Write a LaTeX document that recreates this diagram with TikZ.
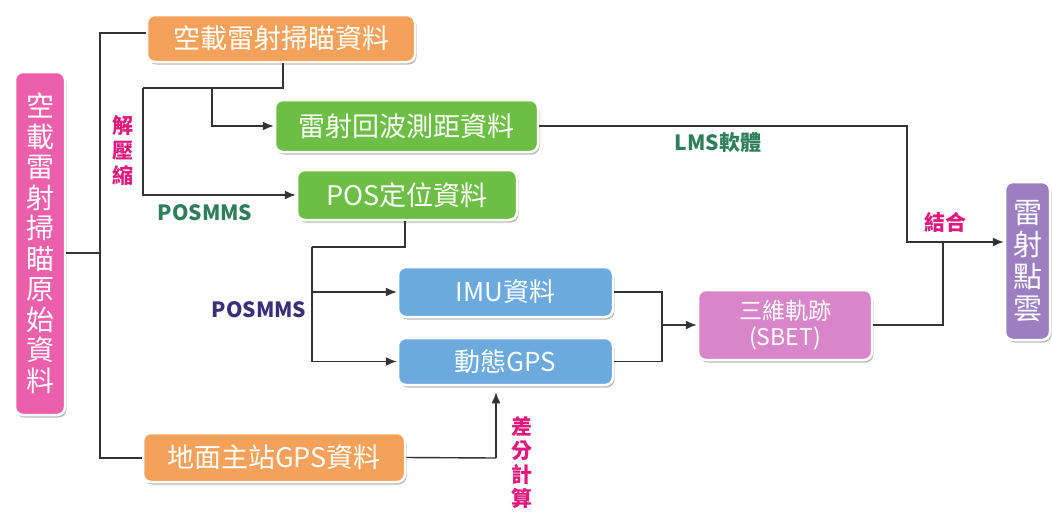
\documentclass[tikz,border=0pt]{standalone}
\usepackage{fontspec}
\setmainfont{Noto Sans CJK TC}
\usetikzlibrary{shadows,arrows.meta}
\definecolor{cleft}{HTML}{EC5FAA}
\definecolor{corange}{HTML}{F4A25B}
\definecolor{cgreen}{HTML}{6DBE45}
\definecolor{cblue}{HTML}{6CA9DD}
\definecolor{csbet}{HTML}{D985C9}
\definecolor{cpurple}{HTML}{9C7FC0}
\definecolor{cmag}{HTML}{E0197D}
\definecolor{cdgreen}{HTML}{2E7D5B}
\definecolor{cnavy}{HTML}{3B2F7A}
\definecolor{cline}{HTML}{333333}
\tikzset{
  box/.style={draw=white, line width=2.5pt, rounded corners=8pt, inner sep=0pt,
    text=white, align=center,
    drop shadow={shadow xshift=1.5pt, shadow yshift=-2.5pt, fill=black, opacity=0.28}},
  conn/.style={draw=cline, line width=1.4pt},
  arr/.style={conn, -{Latex[length=11pt,width=9pt]}},
  lab/.style={font=\bfseries\fontsize{21}{25}\selectfont, inner sep=0pt, align=center},
}
\begin{document}
\begin{tikzpicture}[x=1pt,y=-1pt]
\useasboundingbox[fill=white] (0,0) rectangle (1052,515);

% boxes
\node[box, fill=cleft, minimum width=50pt, minimum height=343pt,
  font=\fontsize{28}{30.5}\selectfont] (left) at (40,243.5)
  {空\\載\\雷\\射\\掃\\瞄\\原\\始\\資\\料};
\node[box, fill=corange, minimum width=268pt, minimum height=47pt,
  font=\fontsize{27}{30}\selectfont] (top) at (281,38.5) {空載雷射掃瞄資料};
\node[box, fill=cgreen, minimum width=263pt, minimum height=52pt,
  font=\fontsize{27}{30}\selectfont] (laser) at (406.5,126) {雷射回波測距資料};
\node[box, fill=cgreen, minimum width=220pt, minimum height=50pt,
  font=\fontsize{27}{30}\selectfont] (pos) at (407,195) {POS定位資料};
\node[box, fill=cblue, minimum width=215pt, minimum height=50pt,
  font=\fontsize{26}{30}\selectfont] (imu) at (505.5,292) {IMU資料};
\node[box, fill=cblue, minimum width=215pt, minimum height=47pt,
  font=\fontsize{26}{30}\selectfont] (gps) at (505.5,361.5) {動態GPS};
\node[box, fill=csbet, minimum width=174pt, minimum height=70pt,
  font=\fontsize{23}{26}\selectfont] (sbet) at (785,325) {三維軌跡\\(SBET)};
\node[box, fill=cpurple, minimum width=45pt, minimum height=158pt,
  font=\fontsize{29}{32}\selectfont] (right) at (1027.5,261) {雷\\射\\點\\雲};
\node[box, fill=corange, minimum width=262pt, minimum height=49pt,
  font=\fontsize{27}{30}\selectfont] (ground) at (274,457.5) {地面主站GPS資料};

% labels
\node[lab, text=cmag, font=\bfseries\fontsize{21}{25}\selectfont] (jieya) at (123,150) {解\\壓\\縮};
\node[lab, text=cdgreen] (posmms1) at (205,213) {POSMMS};
\node[lab, text=cnavy] (posmms2) at (259,310) {POSMMS};
\node[lab, text=cdgreen] (lms) at (718,143) {LMS軟體};
\node[lab, text=cmag] (jiehe) at (945,222) {結合};
\node[lab, text=cmag, font=\bfseries\fontsize{21}{24}\selectfont] (chafen) at (522,462) {差\\分\\計\\算};

% trunk
\coordinate (t1) at (100,33);
\coordinate (t2) at (100,253);
\coordinate (t3) at (100,458);
\draw[conn] (top.west |- t1) -- (t1) -- (t3) -- (ground.west |- t3);
\draw[conn] (left.east |- t2) -- (t2);

% decompress branch
\coordinate (d1) at (283,88);
\coordinate (d2) at (143,88);
\coordinate (d3) at (212,88);
\draw[conn] (top.south -| d1) -- (d1) -- (d2);
\draw[arr] (d2) |- (pos.west);
\draw[arr] (d3) |- (laser.west);

% POS branch
\coordinate (p1) at (405,247);
\coordinate (p2) at (312,247);
\draw[conn] (pos.south -| p1) -- (p1) -- (p2);
\draw[arr] (p2) |- (gps.west);
\draw[arr] (p2 |- imu.west) -- (imu.west);

% IMU / GPS to SBET
\coordinate (m) at (662,325);
\draw[conn] (imu.east) -| (m) |- (gps.east);
\draw[arr] (m) -- (sbet.west |- m);

% to point cloud
\coordinate (j) at (907,242);
\coordinate (k) at (943,242);
\draw[arr] (laser.east) -| (j) -- (right.west |- j);
\draw[conn] (sbet.east) -| (k);

% ground to GPS
\coordinate (g) at (496,458);
\draw[conn] (ground.east) -- (g);
\draw[arr] (g) -- ([yshift=-6pt]g |- gps.south);
\end{tikzpicture}
\end{document}
